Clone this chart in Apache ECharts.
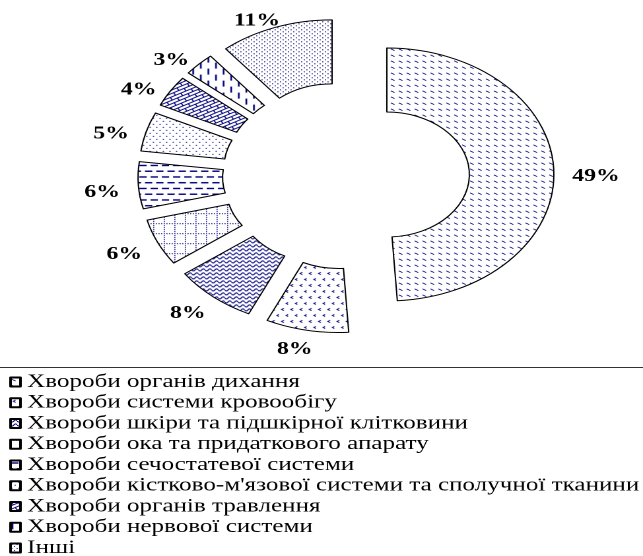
<!DOCTYPE html>
<html>
<head>
<meta charset="utf-8">
<script src="https://cdn.jsdelivr.net/npm/echarts@6/dist/echarts.min.js"></script>
<style>
  html, body { margin: 0; padding: 0; background: #fff; overflow: hidden; }
  /* the figure is laid out narrow and widened as a whole */
  #chart { width: 487px; height: 556px; transform: scaleX(1.3203); transform-origin: 0 0; }
</style>
</head>
<body>
<div id="chart"></div>
<script>
// Structure of outpatient morbidity by disease class, %
const categories = [
  "Хвороби органів дихання",
  "Хвороби системи кровообігу",
  "Хвороби шкіри та підшкірної клітковини",
  "Хвороби ока та придаткового апарату",
  "Хвороби сечостатевої системи",
  "Хвороби кістково-м'язової системи та сполучної тканини",
  "Хвороби органів травлення",
  "Хвороби нервової системи",
  "Інші"
];
const shares = [49, 8, 8, 6, 6, 5, 4, 3, 11];

const INK = '#00007f';
const SERIF = "'Liberation Serif', 'Times New Roman', serif";

// mid angle of every ring segment, clockwise from twelve o'clock
const total = shares.reduce((a, b) => a + b, 0);
const midAngles = [];
shares.reduce((acc, v) => { midAngles.push((acc + v / 2) / total * 2 * Math.PI); return acc + v; }, 0);

// Hatch tiles, drawn at double resolution and scaled back down
function tile(w, h, draw, extra) {
  const s = 2;
  const c = document.createElement('canvas');
  c.width = Math.round(w * s);
  c.height = Math.round(h * s);
  const g = c.getContext('2d');
  g.scale(s, s);
  g.fillStyle = '#fff';
  g.fillRect(0, 0, w, h);
  g.strokeStyle = INK;
  g.fillStyle = INK;
  draw(g, w, h);
  return Object.assign({ image: c, repeat: 'repeat', scaleX: 1 / s, scaleY: 1 / s }, extra || {});
}
function seg(g, x1, y1, x2, y2) { g.beginPath(); g.moveTo(x1, y1); g.lineTo(x2, y2); g.stroke(); }
function dot(g, x, y, r) { g.fillRect(x, y, r, r); }

const fills = [
  // slanted short dashes
  tile(6, 6, g => { g.lineWidth = 0.8; seg(g, 1, 1.8, 3.8, 3.6); }),
  // small chevrons
  tile(7, 12, g => {
    g.lineWidth = 0.8;
    [[2, 3], [5.5, 9]].forEach(([x, y]) => {
      g.beginPath(); g.moveTo(x + 1.8, y - 1.2); g.lineTo(x, y); g.lineTo(x + 1.8, y + 1.2); g.stroke();
    });
  }),
  // waves
  tile(5, 4, g => {
    g.lineWidth = 0.9; g.beginPath();
    for (let i = 0; i <= 20; i++) {
      const x = i * 5 / 20, y = 2 + 1.1 * Math.sin(2 * Math.PI * x / 5);
      if (i === 0) g.moveTo(x, y); else g.lineTo(x, y);
    }
    g.stroke();
  }),
  // dotted grid
  tile(8, 10, g => {
    for (let x = 0; x < 8; x += 2) dot(g, x, 0, 0.9);
    for (let y = 2; y < 10; y += 2) dot(g, 0, y, 0.9);
  }),
  // horizontal dashes
  tile(8.5, 11.5, g => {
    g.lineWidth = 1.4;
    seg(g, 0.5, 2.5, 6, 2.5);
    seg(g, 4.75, 8.25, 10.25, 8.25);
    seg(g, 4.75 - 8.5, 8.25, 10.25 - 8.5, 8.25);
  }),
  // fine dots
  tile(5, 6, g => { dot(g, 0.5, 0.5, 0.9); dot(g, 3, 3.5, 0.9); }),
  // bricks, tilted
  tile(9, 6, g => {
    g.lineWidth = 0.9;
    seg(g, 0, 0.5, 9, 0.5);
    seg(g, 0, 3.5, 9, 3.5);
    seg(g, 0.5, 0.5, 0.5, 3.5);
    seg(g, 5, 3.5, 5, 6);
    seg(g, 5, 0, 5, 0.5);
  }, { rotation: -0.5 }),
  // vertical dashes
  tile(11.5, 12, g => {
    g.lineWidth = 1.3;
    seg(g, 1.5, 0.5, 1.5, 6.5);
    seg(g, 7.25, 6.5, 7.25, 12.5);
    seg(g, 7.25, -5.5, 7.25, 0.5);
  }),
  // dense dots
  tile(4, 4, g => { dot(g, 0.5, 0.5, 0.9); dot(g, 2.5, 2.5, 0.9); })
];

const chart = echarts.init(document.getElementById('chart'), null, { devicePixelRatio: 2 });

chart.setOption({
  animation: false,
  backgroundColor: '#fff',
  graphic: [{
    type: 'line',
    shape: { x1: 0, y1: 367.5, x2: 487, y2: 367.5 },
    style: { stroke: '#333', lineWidth: 1 },
    silent: true
  }],
  legend: {
    orient: 'vertical',
    left: 7,
    top: 372.5,
    height: 200,
    padding: 0,
    itemWidth: 7.5,
    itemHeight: 9,
    itemGap: 1.75,
    icon: 'rect',
    selectedMode: false,
    data: categories,
    textStyle: {
      fontFamily: SERIF,
      fontSize: 19,
      color: '#000'
    }
  },
  series: [{
    type: 'pie',
    center: [262, 175.5],
    radius: [62.5, 126.5],
    startAngle: 90,
    clockwise: true,
    selectedMode: 'multiple',
    selectedOffset: 31,
    avoidLabelOverlap: false,
    emphasis: { disabled: true },
    itemStyle: { borderColor: '#000', borderWidth: 1 },
    label: {
      show: true,
      position: 'outside',
      formatter: '{c}%',
      fontFamily: SERIF,
      fontWeight: 'bold',
      fontSize: 18,
      color: '#000'
    },
    labelLine: { show: false, length: 9, length2: 0 },
    // move each value label outward along its ray so the box clears the segment
    labelLayout: function (p) {
      const a = midAngles[p.dataIndex];
      const ux = Math.sin(a), uy = -Math.cos(a);
      const w = p.labelRect.width, h = p.labelRect.height;
      const base = ux < 0 ? w / 2 : -w / 2;
      return { dx: base + ux * w / 2, dy: 6 + uy * h / 4 };
    },
    data: categories.map((name, i) => ({
      name: name,
      value: shares[i],
      selected: true,
      itemStyle: { color: fills[i] }
    }))
  }]
});
</script>
</body>
</html>
